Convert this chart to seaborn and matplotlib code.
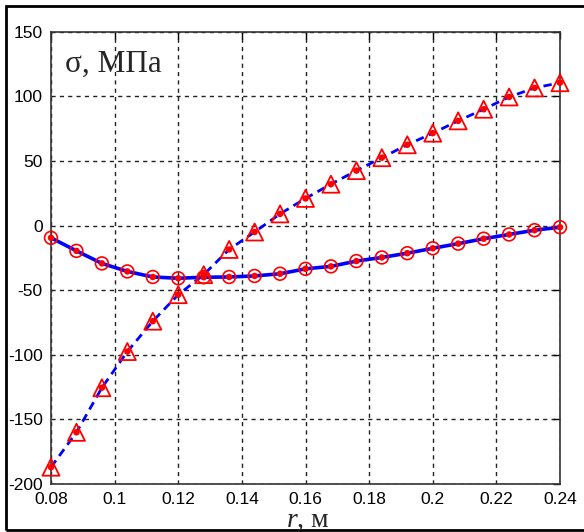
import matplotlib
matplotlib.use("Agg")
import matplotlib.pyplot as plt
import seaborn as sns
import pandas as pd
from matplotlib.patches import Rectangle

r_values = [0.080, 0.088, 0.096, 0.104, 0.112, 0.120, 0.128, 0.136, 0.144, 0.152,
            0.160, 0.168, 0.176, 0.184, 0.192, 0.200, 0.208, 0.216, 0.224, 0.232, 0.240]
sigma_circles = [-9.5, -19.6, -29.3, -35.5, -39.8, -40.8, -40.0, -39.8, -39.0, -37.3,
                 -33.5, -31.6, -27.5, -24.7, -21.4, -17.6, -14.0, -10.2, -6.9, -3.6, -1.3]
sigma_triangles = [-187.0, -160.0, -125.5, -97.5, -74.0, -53.5, -38.0, -18.5, -5.0, 9.0,
                   21.0, 32.0, 42.5, 52.5, 62.5, 71.5, 81.0, 90.0, 99.5, 106.5, 110.5]
x_ticks = [0.08, 0.1, 0.12, 0.14, 0.16, 0.18, 0.2, 0.22, 0.24]
x_tick_labels = ["0.08", "0.1", "0.12", "0.14", "0.16", "0.18", "0.2", "0.22", "0.24"]
y_ticks = [-200, -150, -100, -50, 0, 50, 100, 150]
y_tick_labels = ["-200", "-150", "-100", "-50", "0", "50", "100", "150"]

df = pd.DataFrame({"r": r_values, "circ": sigma_circles, "tri": sigma_triangles})

sns.set_style("white")
plt.rcParams["font.family"] = ["Liberation Sans", "DejaVu Sans"]
plt.rcParams["mathtext.fontset"] = "custom"
plt.rcParams["mathtext.rm"] = "Liberation Serif"
plt.rcParams["mathtext.it"] = "Liberation Serif:italic"

fig = plt.figure(figsize=(5.84, 5.32), dpi=100)
ax = fig.add_axes([51/584, 1 - 484/532, (560 - 51)/584, (484 - 31.7)/532])

# lines
sns.lineplot(data=df, x="r", y="circ", ax=ax, color="#0000ff", lw=2.6,
             linestyle="-", zorder=3)
sns.lineplot(data=df, x="r", y="tri", ax=ax, color="#0000ff", lw=2.0,
             linestyle=(0, (3, 2)), zorder=3)
# hollow red markers
sns.scatterplot(data=df, x="r", y="circ", ax=ax, marker="o", s=85,
                facecolor="none", edgecolor="#ff0000", linewidth=1.2, zorder=4)
sns.scatterplot(data=df, x="r", y="tri", ax=ax, marker="^", s=150,
                facecolor="none", edgecolor="#ff0000", linewidth=1.3, zorder=4)
# red dots
sns.scatterplot(data=df, x="r", y="circ", ax=ax, marker="o", s=22,
                color="#ff0000", edgecolor="none", zorder=5)
sns.scatterplot(data=df, x="r", y="tri", ax=ax, marker="o", s=22,
                color="#ff0000", edgecolor="none", zorder=5)
for artist in list(ax.collections) + list(ax.lines):
    artist.set_clip_on(False)

ax.set_xlim(0.08, 0.24)
ax.set_ylim(-200, 150)
ax.set_xticks(x_ticks)
ax.set_xticklabels(x_tick_labels)
ax.set_yticks(y_ticks)
ax.set_yticklabels(y_tick_labels)
ax.tick_params(direction="in", length=5, width=1, labelsize=12.5, colors="black",
               top=True, right=True, pad=6)
ax.grid(True, color="#222222", linestyle=(0, (3, 3)), linewidth=1.0)
ax.set_axisbelow(True)
for s in ax.spines.values():
    s.set_color("#333333")
    s.set_linewidth(1.2)
ax.set_xlabel("")
ax.set_ylabel("")

fig.text(65/584, 1 - 72/532, "σ, МПа", fontsize=22.5,
         family=["Liberation Serif", "DejaVu Serif"], ha="left", va="baseline")
fig.text(286/584, 1 - 527/532, "$r$, м", fontsize=20,
         family=["Liberation Serif", "DejaVu Serif"], ha="left", va="baseline")

fig.patches.append(Rectangle((6/584, 1 - 530/532), 0.999, 524/532, transform=fig.transFigure,
                             fill=False, edgecolor="black", linewidth=2, figure=fig))

fig.savefig("out.png", dpi=100)
